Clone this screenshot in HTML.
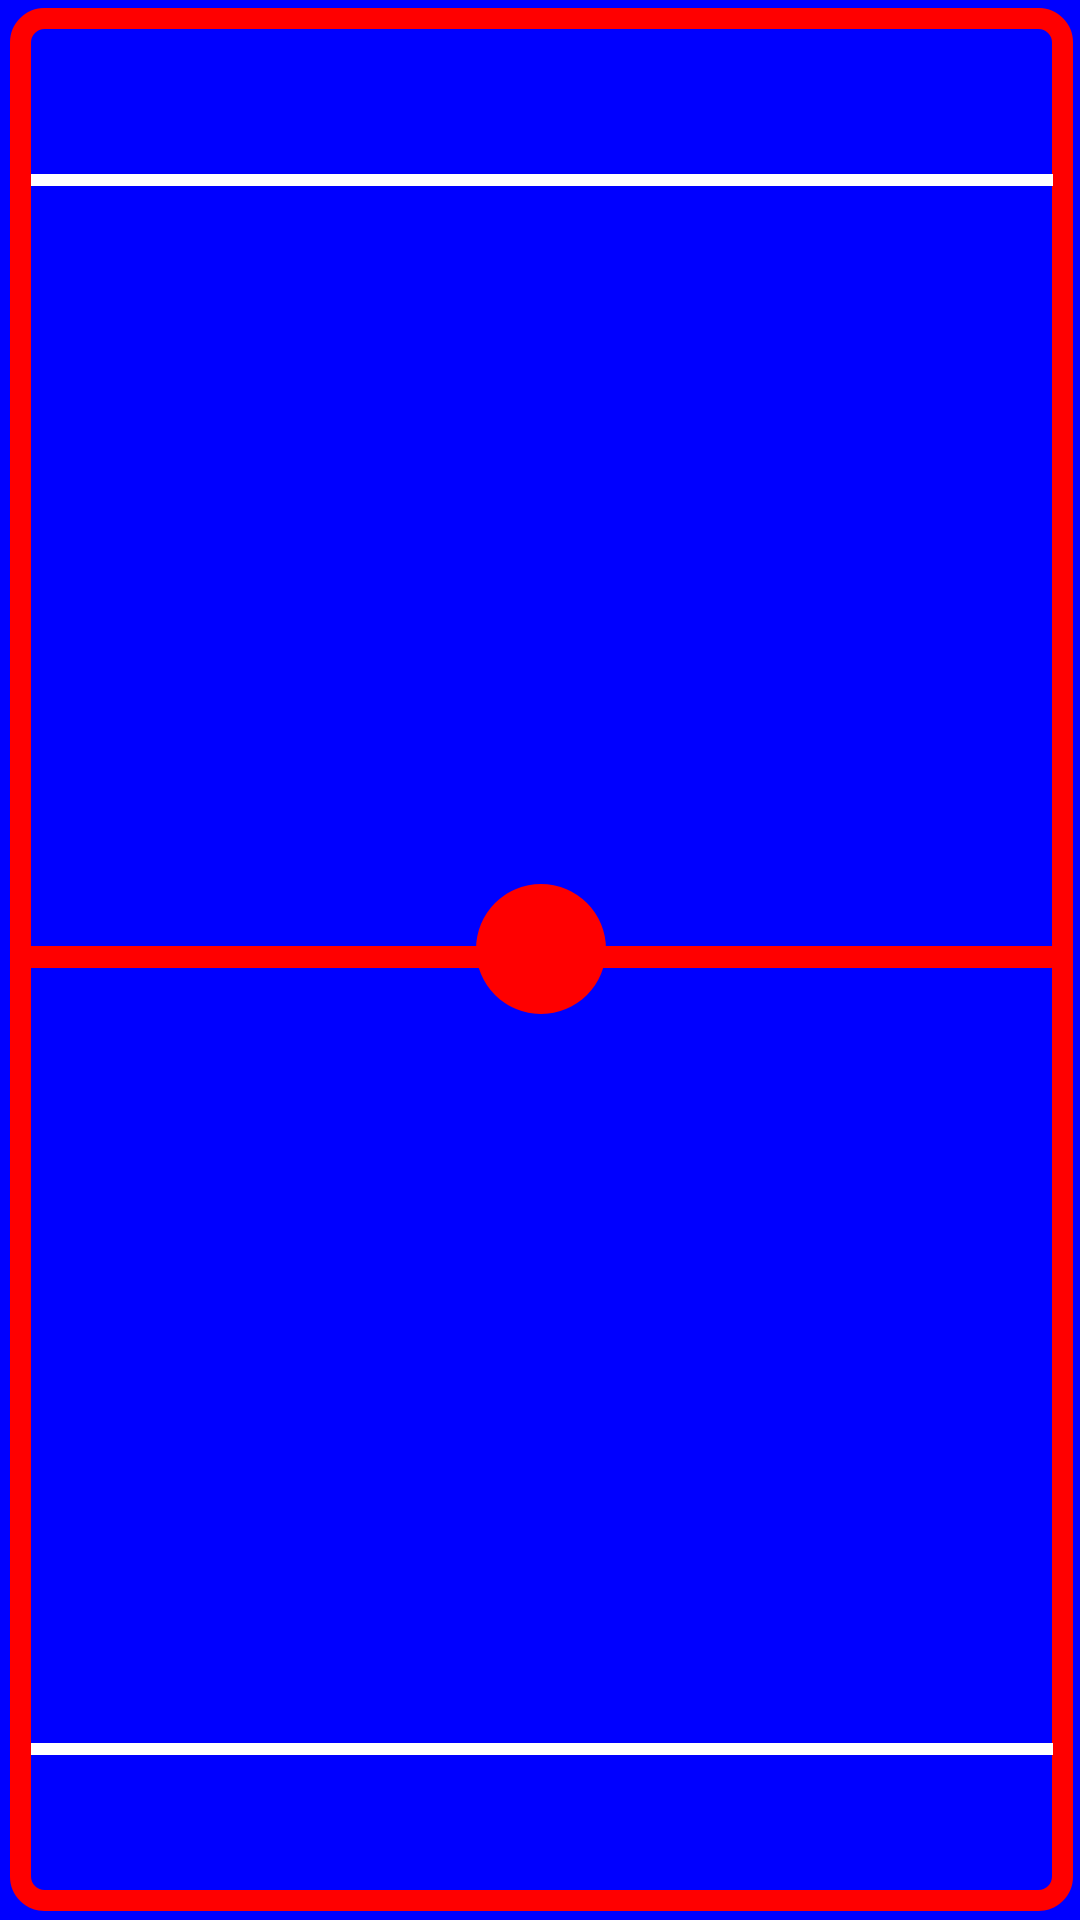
<!DOCTYPE html>
<html>
<head>
<meta charset="utf-8">
<style>
  html,body{margin:0;padding:0;}
  body{width:1080px;height:1920px;background:#0000ff;position:relative;overflow:hidden;}
</style>
</head>
<body>
<svg width="1080" height="1920" viewBox="0 0 1080 1920" xmlns="http://www.w3.org/2000/svg" style="position:absolute;left:0;top:0">
  <rect x="0" y="0" width="1080" height="1920" fill="#0000ff"/>
  <rect x="20.5" y="18.5" width="1042" height="1882" rx="24" ry="24" fill="none" stroke="#ff0000" stroke-width="21"/>
  <rect x="31" y="174" width="1022" height="12" fill="#ffffff"/>
  <rect x="31" y="1743" width="1022" height="12" fill="#ffffff"/>
  <rect x="31" y="946" width="1022" height="22" fill="#ff0000"/>
  <circle cx="541" cy="949" r="65" fill="#ff0000"/>
</svg>
</body>
</html>
